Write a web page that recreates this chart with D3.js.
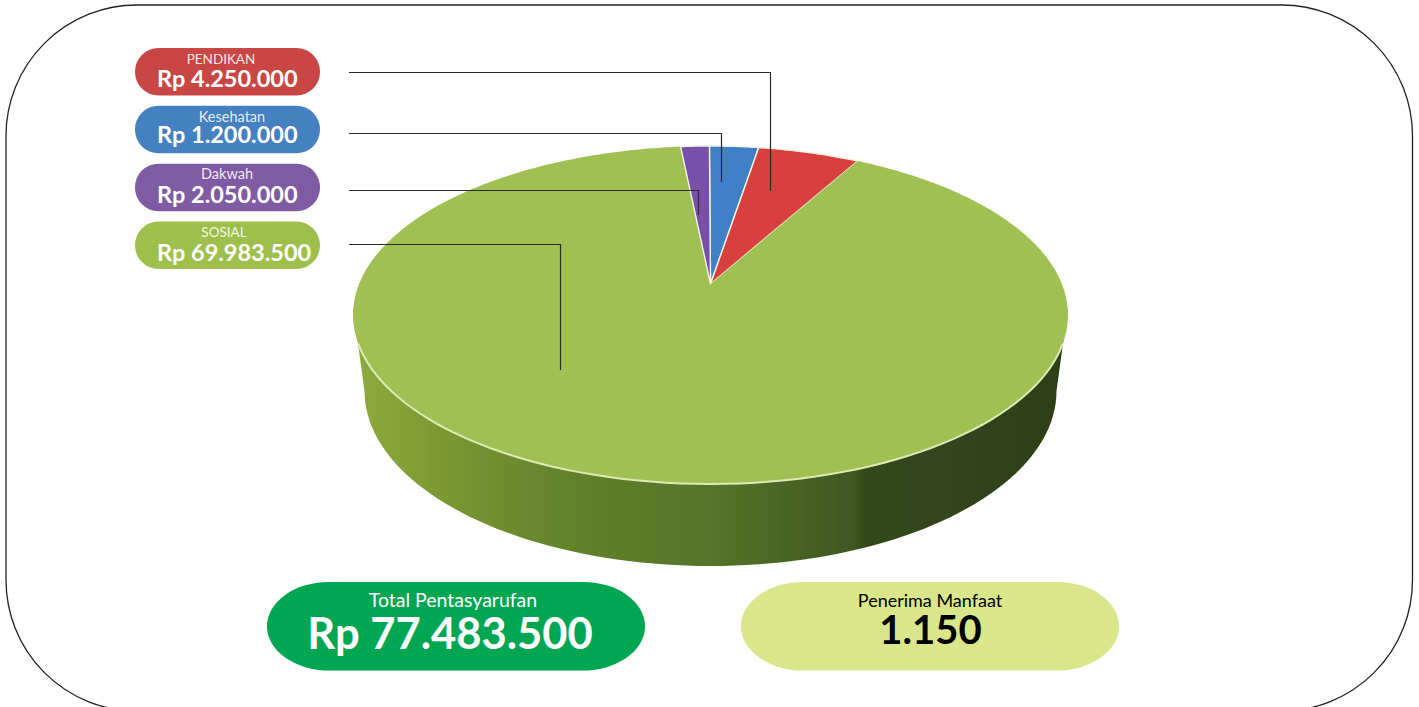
<!DOCTYPE html>
<html>
<head>
<meta charset="utf-8">
<script src="https://cdn.jsdelivr.net/npm/d3@7"></script>
<style>
    html, body { margin: 0; padding: 0; background: #fff; overflow: hidden; }
    svg { display: block; font-family: Lato, "Open Sans", sans-serif; }
</style>
</head>
<body>
<div id="chart"></div>
<script>
// legend pills, as printed
const categories = ["PENDIKAN", "Kesehatan", "Dakwah", "SOSIAL"];
const amounts = [4250000, 1200000, 2050000, 69983500];
const pillColors = ["#c84745", "#4580c0", "#7f5ba3", "#9ebf4c"];

// wedges clockwise from 12 o'clock. the blue wedge is drawn wider than the purple one
// in the source picture, even though its label is smaller, so that is kept here
const sliceNames = ["Kesehatan", "PENDIKAN", "SOSIAL", "Dakwah"];
const sliceValues = [2050000, 4250000, 69983500, 1200000];
const sliceColors = ["#3f80c6", "#d8403f", "#a0c052", "#7a50aa"];

const totalLabel = "Total Pentasyarufan";
const totalValue = 77483500;
const receiverLabel = "Penerima Manfaat";
const receiverValue = 1150;

const width = 1419;
const height = 707;

const svg = d3.select("#chart").append("svg")
    .attr("width", width)
    .attr("height", height)
    .attr("viewBox", [0, 0, width, height]);

const rupiah = new Intl.NumberFormat("id-ID");

// outer frame
svg.append("rect")
    .attr("x", 6).attr("y", 5)
    .attr("width", 1406.5).attr("height", 706)
    .attr("rx", 131).attr("ry", 131)
    .attr("fill", "#fff")
    .attr("stroke", "#222")
    .attr("stroke-width", 1.3);

const defs = svg.append("defs");

const sideGrad = defs.append("linearGradient")
    .attr("id", "side-grad")
    .attr("gradientUnits", "userSpaceOnUse")
    .attr("x1", 355).attr("x2", 1066).attr("y1", 0).attr("y2", 0);
[
    [0, "#8dab3c"], [0.1, "#7f9c34"], [0.2, "#6f8d2f"], [0.33, "#5f7f2b"],
    [0.5, "#557529"], [0.62, "#486324"], [0.70, "#3f5720"], [0.72, "#32471b"], [1, "#2e4019"]
].forEach(([o, c]) => sideGrad.append("stop").attr("offset", o).attr("stop-color", c));

defs.append("filter").attr("id", "soft")
    .attr("x", "-5%").attr("y", "-5%").attr("width", "110%").attr("height", "110%")
    .append("feGaussianBlur").attr("stdDeviation", 0.7);

// the top face is a tilted disc: a projective map keeps the apex above the ellipse centre
const apex = {x: 710.5, y: 284};
const persp = 0.1834;
const faceX = 351.4;
const faceY = 163.3;

function project(a) {
    const w = 1 + persp * Math.cos(a);
    return [apex.x + faceX * Math.sin(a) / w, apex.y - faceY * Math.cos(a) / w];
}

const lineGen = d3.line();
const startAngle = -0.2 * Math.PI / 180;

const pie = d3.pie()
    .sort(null)
    .startAngle(startAngle)
    .endAngle(startAngle + 2 * Math.PI);

const arcs = pie(sliceValues);

function wedgePath(d) {
    const n = Math.max(2, Math.ceil((d.endAngle - d.startAngle) / 0.01));
    const pts = d3.range(n + 1).map(i => project(d.startAngle + (d.endAngle - d.startAngle) * i / n));
    return lineGen([[apex.x, apex.y], ...pts]) + "Z";
}

// side wall: lower half of the base ellipse, tied up to the widest part of the top face
const base = {cx: 710.5, cy: 391, rx: 346, ry: 175};
const basePts = d3.range(0, 181, 2).map(t => {
    const a = t * Math.PI / 180;
    return [base.cx - base.rx * Math.cos(a), base.cy + base.ry * Math.sin(a)];
});
const sidePts = [project(-1.72), ...basePts, project(1.72)];

const pieG = svg.append("g").attr("class", "pie3d");

pieG.append("path")
    .attr("d", lineGen(sidePts) + "Z")
    .attr("fill", "url(#side-grad)")
    .attr("filter", "url(#soft)");

pieG.selectAll("path.wedge")
    .data(arcs)
    .join("path")
    .attr("class", "wedge")
    .attr("d", wedgePath)
    .attr("fill", (d, i) => sliceColors[i])
    .attr("stroke", (d, i) => i === 2 ? "none" : "#f1f3e2")
    .attr("stroke-width", 1.4)
    .attr("stroke-linejoin", "round")
    .attr("filter", "url(#soft)");

// pale rim along the front edge of the top face
const rimPts = d3.range(110, 251, 2).map(t => project(t * Math.PI / 180));
pieG.append("path")
    .attr("d", lineGen(rimPts))
    .attr("fill", "none")
    .attr("stroke", "#dcebb4")
    .attr("stroke-width", 2);

// leader lines from the pills into the wedges
const leaderStart = 349;
const leaders = [
    {y: 72, x: 770, end: 191},
    {y: 133, x: 721, end: 182},
    {y: 190, x: 698, end: 215},
    {y: 244, x: 560, end: 370}
];

svg.append("g").attr("class", "leaders")
    .selectAll("path")
    .data(leaders)
    .join("path")
    .attr("d", d => lineGen([[leaderStart, d.y + 0.5], [d.x + 0.5, d.y + 0.5], [d.x + 0.5, d.end]]))
    .attr("fill", "none")
    .attr("stroke", "#2a2a2a")
    .attr("stroke-width", 1.2);

// legend pills
const pillY = d3.scalePoint()
    .domain(categories)
    .range([48, 221.5]);

// the source labels are not quite centred, and each row sits a little differently
const labelX = [86, 97, 92, 89];
const labelY = [16, 16, 15, 15];
const valueY = [39, 37, 39, 39];

const pills = svg.append("g").attr("class", "legend")
    .selectAll("g")
    .data(categories)
    .join("g")
    .attr("transform", d => `translate(135,${pillY(d)})`);

pills.append("rect")
    .attr("width", 185).attr("height", 47.5)
    .attr("rx", 23.5).attr("ry", 23.5)
    .attr("fill", (d, i) => pillColors[i]);

pills.append("text")
    .attr("x", (d, i) => labelX[i]).attr("y", (d, i) => labelY[i])
    .attr("text-anchor", "middle")
    .attr("fill", "#fff")
    .attr("fill-opacity", 0.88)
    .attr("font-size", d => d === d.toUpperCase() ? 13.5 : 14.5)
    .text(d => d);

pills.append("text")
    .attr("x", 22).attr("y", (d, i) => valueY[i])
    .attr("fill", "#fff")
    .attr("font-size", 23.5)
    .attr("font-weight", 700)
    .text((d, i) => "Rp " + rupiah.format(amounts[i]));

// summary boxes under the pie
const summaries = [
    {label: totalLabel, value: "Rp " + rupiah.format(totalValue), x: 267, fill: "#00a651", ink: "#fff",
        labelSize: 19.5, valueSize: 43.5, valueX: 183, valueBase: 67},
    {label: receiverLabel, value: rupiah.format(receiverValue), x: 741, fill: "#d9e68a", ink: "#000",
        labelSize: 18, valueSize: 40, valueX: 189.5, valueBase: 62}
];

const boxes = svg.append("g").attr("class", "summary")
    .selectAll("g")
    .data(summaries)
    .join("g")
    .attr("transform", d => `translate(${d.x},582)`);

boxes.append("rect")
    .attr("width", 378).attr("height", 88.5)
    .attr("rx", 62).attr("ry", 44)
    .attr("fill", d => d.fill);

boxes.append("text")
    .attr("x", (d, i) => i === 0 ? 186 : 189).attr("y", 25)
    .attr("text-anchor", "middle")
    .attr("fill", d => d.ink)
    .attr("font-size", d => d.labelSize)
    .text(d => d.label);

boxes.append("text")
    .attr("x", d => d.valueX).attr("y", d => d.valueBase)
    .attr("text-anchor", "middle")
    .attr("fill", d => d.ink)
    .attr("font-size", d => d.valueSize)
    .attr("font-weight", 700)
    .text(d => d.value);
</script>
</body>
</html>
